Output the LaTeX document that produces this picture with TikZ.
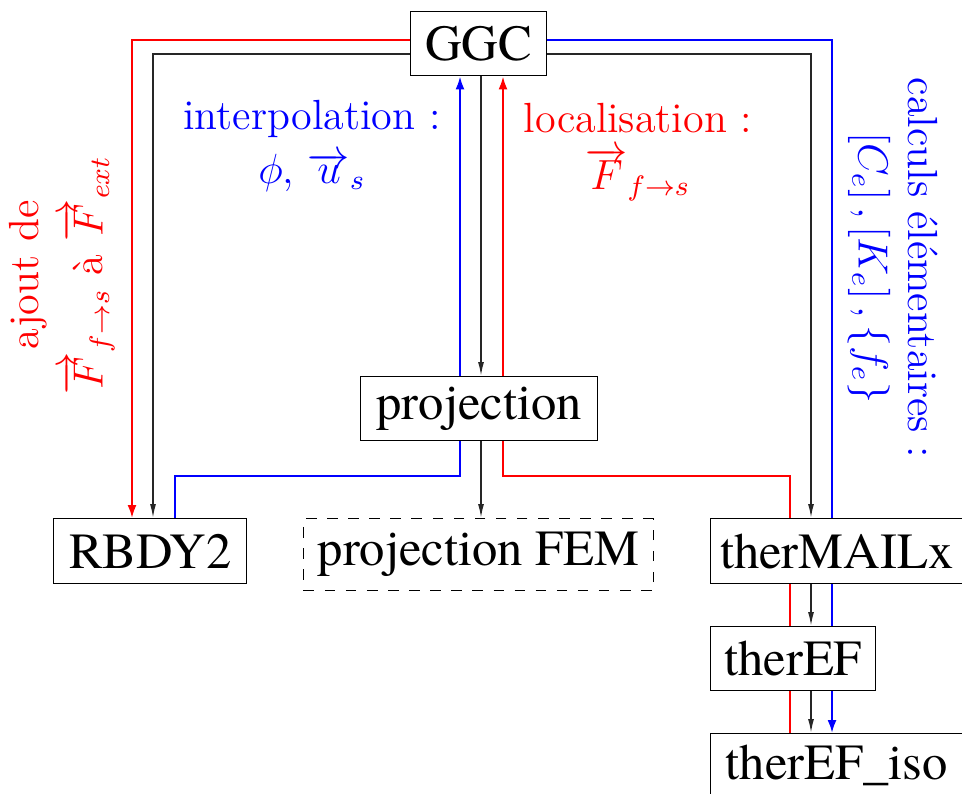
\documentclass[tikz,border=0pt]{standalone}
\usepackage{fontspec}
\newfontfamily\boxfont{texgyretermes}[Extension=.otf, UprightFont=*-regular]
\usetikzlibrary{arrows.meta,positioning}

\tikzset{
  module/.style={draw, thin, fill=white, anchor=north west, inner sep=0pt,
    font=\boxfont\fontsize{14.4}{17}\selectfont},
  lbl/.style={align=center, font=\fontsize{12}{14.2}\selectfont},
  kline/.style={draw=black!85, line width=0.45pt},
  rline/.style={draw=red, line width=0.6pt},
  bline/.style={draw=blue, line width=0.6pt},
  ktip/.style={-{Latex[length=1.4mm,width=0.6mm]}},
  ctip/.style={-{Latex[length=1.3mm,width=0.9mm]}}
}

\begin{document}
\begin{tikzpicture}
    \useasboundingbox (0,0) rectangle (9.62,-7.93);

    % boxes
    \node[module, minimum width=1.36cm, minimum height=0.64cm] (ggc) at (4.10,-0.11) {GGC};
    \node[module, minimum width=2.37cm, minimum height=0.64cm] (proj) at (3.60,-3.76) {projection};
    \node[module, minimum width=1.93cm, minimum height=0.65cm] (rbdy) at (0.53,-5.18) {RBDY2};
    \node[module, dashed, minimum width=3.50cm, minimum height=0.72cm] (fem) at (3.03,-5.18) {projection FEM};
    \node[module, minimum width=2.52cm, minimum height=0.65cm] (mail) at (7.10,-5.18) {therMAILx};
    \node[module, minimum width=1.65cm, minimum height=0.64cm] (ef) at (7.10,-6.26) {therEF};
    \node[module, minimum width=2.52cm, minimum height=0.64cm] (iso) at (7.10,-7.33) {therEF\_iso};

    % rails
    \coordinate (rl) at (1.32,-0.40);
    \coordinate (kl) at (1.53,-0.54);
    \coordinate (bl) at (1.75,-4.76);
    \coordinate (bm) at (4.60,-4.76);
    \coordinate (km) at (4.81,-4.76);
    \coordinate (rm) at (5.03,-4.76);
    \coordinate (rr) at (7.90,-4.76);
    \coordinate (kr) at (8.11,-0.54);
    \coordinate (br) at (8.32,-0.40);

    % GGC -> RBDY2
    \draw[rline, ctip] (ggc.west |- rl) -| (rbdy.north -| rl);
    \draw[kline, ktip] (ggc.west |- kl) -| (rbdy.north -| kl);

    % GGC <-> projection
    \draw[bline, ctip] (proj.north -| bm) -- (ggc.south -| bm);
    \draw[kline, ktip] (ggc.south -| km) -- (proj.north -| km);
    \draw[rline, ctip] (proj.north -| rm) -- (ggc.south -| rm);

    % projection -> below
    \draw[bline] (proj.south -| bm) |- (bl) -- (rbdy.north -| bl);
    \draw[kline, ktip] (proj.south -| km) -- (fem.north -| km);
    \draw[rline] (proj.south -| rm) |- (rr) -- (mail.north -| rr);
    \draw[rline] (mail.south -| rr) -- (ef.north -| rr);
    \draw[rline] (ef.south -| rr) -- (iso.north -| rr);

    % GGC -> therMAILx -> therEF -> therEF_iso
    \draw[kline, ktip] (ggc.east |- kr) -| (mail.north -| kr);
    \draw[kline, ktip] (mail.south -| kr) -- (ef.north -| kr);
    \draw[kline, ktip] (ef.south -| kr) -- (iso.north -| kr);
    \draw[bline] (ggc.east |- br) -| (mail.north -| br);
    \draw[bline] (mail.south -| br) -- (ef.north -| br);
    \draw[bline, ctip] (ef.south -| br) -- (iso.north -| br);

    % labels
    \node[lbl, blue] (interp) at (3.12,-1.46) {interpolation :\\[1pt] $\phi$, $\overrightarrow{u}_s$};
    \node[lbl, red] (loc) at (6.38,-1.52) {localisation :\\[2pt] $\overrightarrow{F}_{f\rightarrow s}$};
    \node[lbl, red, rotate=90] (ajout) at (0.62,-2.75) {ajout de\\[4pt] $\overrightarrow{F}_{f\rightarrow s}$ à $\overrightarrow{F}_{ext}$};
    \node[lbl, blue, rotate=-90] (calc) at (8.93,-2.68) {calculs élémentaires :\\ $\left[C_e\right], \left[K_e\right], \left\{f_e\right\}$};
\end{tikzpicture}
\end{document}
